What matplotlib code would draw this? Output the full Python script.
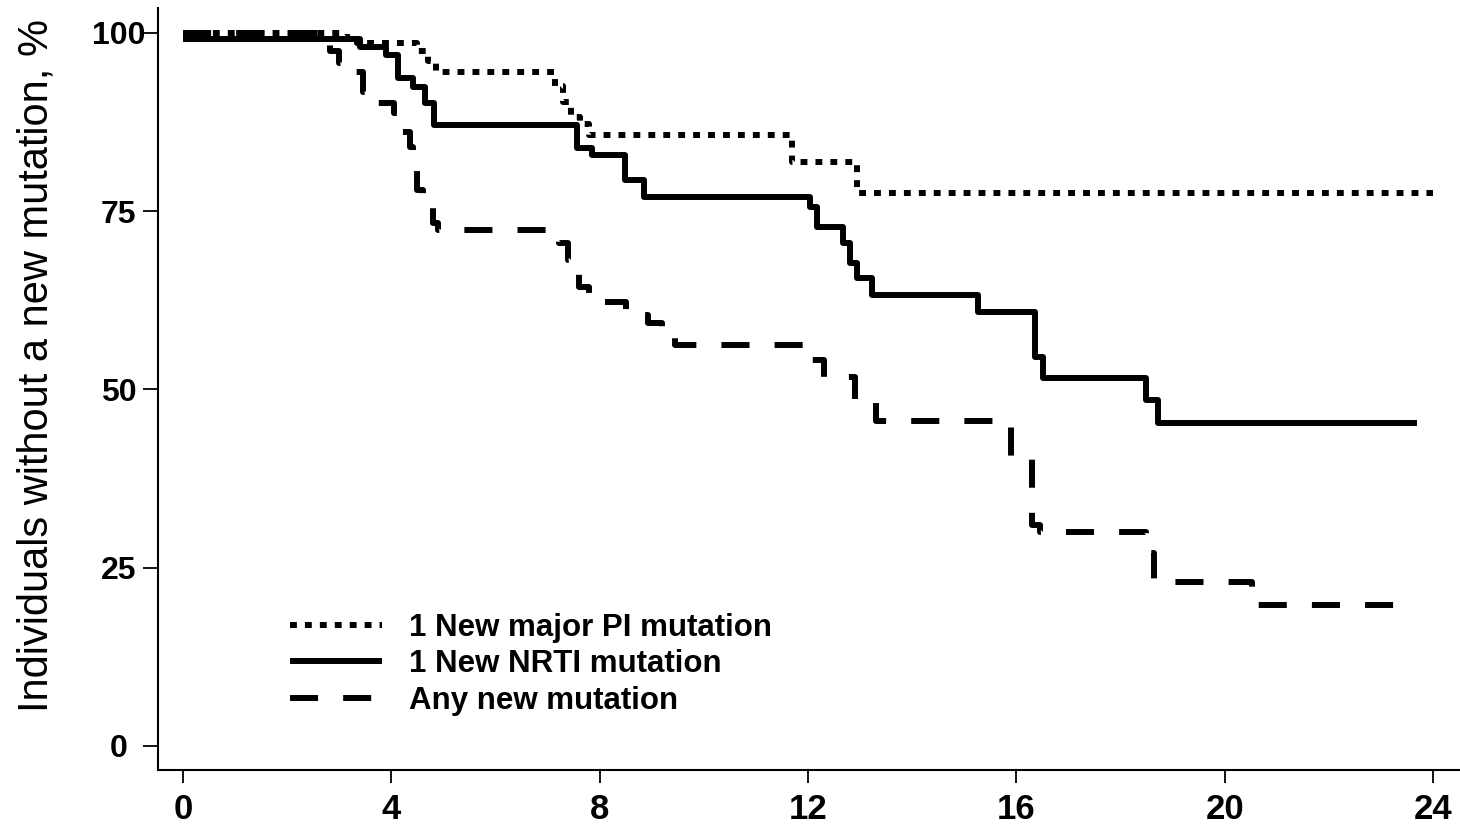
import matplotlib
matplotlib.use("Agg")
import matplotlib.pyplot as plt
from matplotlib import font_manager

# Kaplan-Meier style step curves: months of follow-up vs % without a new mutation
pi_time = [0, 3.1, 3.35, 4.5, 4.7, 4.85, 7.15, 7.3, 7.45, 7.62, 7.8, 11.7, 12.95, 24.0]
pi_surv = [100, 99.5, 98.6, 97.5, 96.0, 94.5, 92.5, 90.3, 88.2, 87.2, 85.7, 81.9, 77.6, 77.6]

nrti_time = [0, 3.4, 3.9, 4.12, 4.42, 4.65, 4.82, 7.57, 7.85, 8.48, 8.86,
             12.04, 12.17, 12.67, 12.8, 12.94, 13.23, 15.26, 16.35, 16.52,
             18.5, 18.72, 23.7]
nrti_surv = [99.2, 98.0, 96.9, 93.7, 92.4, 90.2, 87.1, 83.9, 82.9, 79.4, 77.0,
             75.6, 72.8, 70.5, 67.7, 65.6, 63.3, 60.8, 54.6, 51.6,
             48.5, 45.3, 45.3]

any_time = [0, 2.82, 3.0, 3.3, 3.45, 3.7, 4.05, 4.12, 4.36, 4.42, 4.5, 4.6, 4.8,
            4.9, 7.22, 7.4, 7.6, 7.8, 8.5, 8.93, 9.2, 9.45, 12.05, 12.3, 12.9,
            13.3, 15.9, 16.3, 16.45, 18.5, 18.65, 20.53, 23.6]
any_surv = [100, 97.5, 95.8, 94.5, 91.7, 90.2, 88.8, 86.1, 84.0, 81.0, 78.0, 76.3,
            73.3, 72.4, 70.5, 68.2, 64.4, 62.3, 60.4, 59.3, 58.6, 56.3, 54.1,
            51.8, 48.5, 45.6, 40.3, 31.0, 30.0, 27.1, 23.0, 19.8, 19.8]

series_labels = ["1 New major PI mutation", "1 New NRTI mutation", "Any new mutation"]
x_ticks = [0, 4, 8, 12, 16, 20, 24]
y_ticks = [0, 25, 50, 75, 100]
y_title = "Individuals without a new mutation, %"


def pick(families):
    names = {f.name for f in font_manager.fontManager.ttflist}
    for fam in families:
        if fam in names:
            return fam
    return "DejaVu Sans"


font = pick(["Liberation Sans", "Arial"])

W, H = 1460, 826
fig = plt.figure(figsize=(W / 100, H / 100), dpi=100)
ax_left, ax_right, ax_top, ax_bottom = 158, 1460, 8, 770
ax = fig.add_axes([ax_left / W, 1 - ax_bottom / H,
                   (ax_right - ax_left) / W, (ax_bottom - ax_top) / H])

lw = 4.3
line_pi, = ax.plot(pi_time, pi_surv, drawstyle="steps-post", color="black",
                   lw=lw, dashes=(1.15, 1.35), dash_capstyle="butt",
                   label=series_labels[0])
line_nrti, = ax.plot(nrti_time, nrti_surv, drawstyle="steps-post", color="black",
                     lw=lw, solid_capstyle="butt", label=series_labels[1])
line_any, = ax.plot(any_time, any_surv, drawstyle="steps-post", color="black",
                    lw=lw, dashes=(4.7, 4.2), dash_capstyle="butt",
                    label=series_labels[2])

ax.set_xlim(-0.48, 24.52)
ax.set_ylim(-3.37, 103.5)

for side in ("top", "right"):
    ax.spines[side].set_visible(False)
for side in ("left", "bottom"):
    ax.spines[side].set_linewidth(1.5)

ax.set_xticks(x_ticks)
ax.set_xticklabels([str(v) for v in x_ticks], family=font, fontweight="bold",
                   fontsize=25)
ax.set_yticks(y_ticks)
ax.set_yticklabels([str(v) for v in y_ticks], family=font, fontweight="bold",
                   fontsize=23, ha="center")
ax.tick_params(axis="x", direction="out", length=9.5, width=1.3, pad=7)
ax.tick_params(axis="y", direction="out", length=10.5, width=1.3, pad=18)

fig.text(37 / W, 1 - 365 / H, y_title, rotation=90, ha="center", va="center",
         family=font, fontsize=30)

leg = ax.legend(handles=[line_pi, line_nrti, line_any], frameon=False,
                loc="upper left",
                bbox_to_anchor=((290 - ax_left) / (ax_right - ax_left),
                                (ax_bottom - 613) / (ax_bottom - ax_top)),
                borderpad=0, borderaxespad=0, handlelength=2.94,
                handletextpad=0.88, labelspacing=0.2,
                prop={"family": font, "weight": "bold", "size": 22.5})

fig.savefig("out.png", dpi=100)
